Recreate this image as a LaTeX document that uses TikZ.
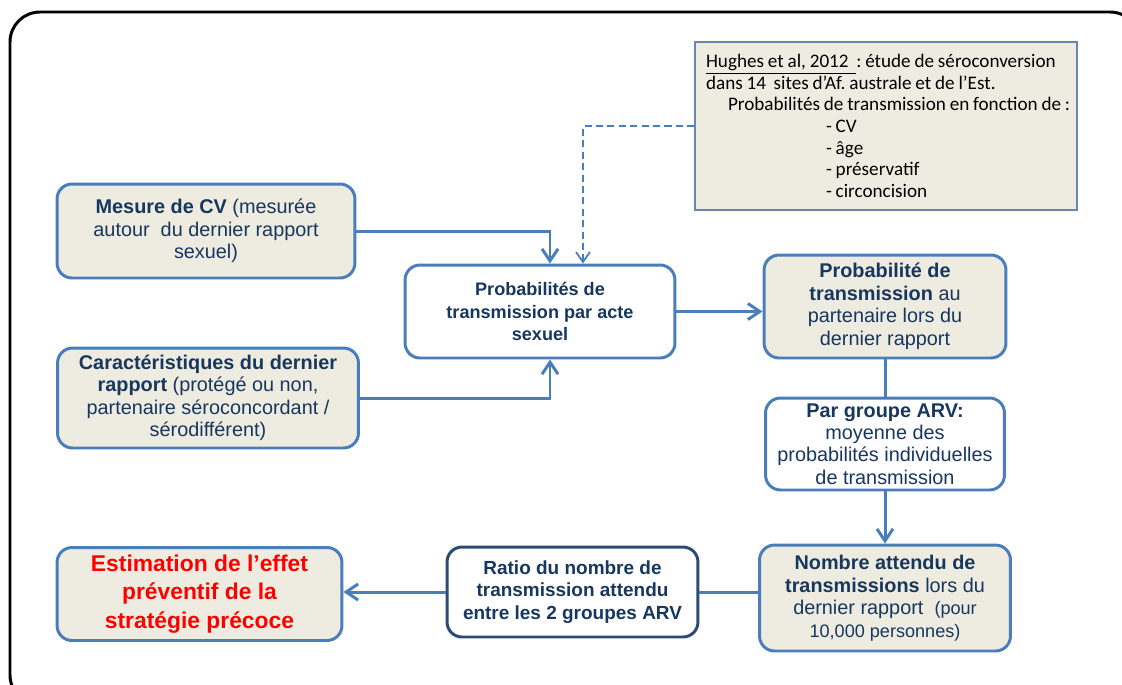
\documentclass[tikz,border=0pt]{standalone}
\usepackage{fontspec}
\setmainfont{Liberation Sans}
\newfontfamily\calibri{Carlito}
\usepackage{xcolor}
\usepackage{tikz}
\usetikzlibrary{arrows.meta,shapes}

\definecolor{boxblue}{HTML}{4A7EBB}
\definecolor{darkblue}{HTML}{2C4B74}
\definecolor{beige}{HTML}{EEECE1}
\definecolor{navy}{HTML}{17375E}
\definecolor{refline}{HTML}{6A86AE}

\begin{document}
\begin{tikzpicture}[x=0.02cm, y=-0.02cm, semithick, >={Straight Barb[length=2.4mm,width=3.2mm]},
box/.style={draw=boxblue, line width=1.7pt, rounded corners=0.3cm, align=center, text=navy, inner sep=1pt, font=\fontsize{11.3}{12.8}\selectfont},
fbox/.style={box, fill=beige},
wbox/.style={box, fill=white},
link/.style={draw=boxblue, line width=1.7pt},
dashlink/.style={draw=boxblue, line width=1pt, dash pattern=on 4pt off 2.5pt, >={Straight Barb[length=2mm,width=2.8mm]}}]
\useasboundingbox (0,0) rectangle (1122,684);
\clip (0,0) rectangle (1122,684);
\draw [line width=1.7pt, rounded corners=0.6cm] (10,12) rectangle (1140,705);

\node [draw=refline, line width=0.8pt, fill=beige, minimum width=7.64cm, minimum height=3.36cm, align=left, text width=7.2cm, inner xsep=0.22cm, font=\calibri\fontsize{10.9}{12.3}\selectfont] (hughes) at (886,126) {\frenchspacing\spaceskip=0.2em plus 0.05em\relax
\underline{Hughes et al, 2012\ \ }: étude de séroconversion\\
dans 14\ \ sites d’Af. australe et de l’Est.\\
\hspace*{0.44cm}\mbox{Probabilités de transmission en fonction de :}\\
\hspace*{2.4cm}- CV\\
\hspace*{2.4cm}- âge\\
\hspace*{2.4cm}- préservatif\\
\hspace*{2.4cm}- circoncision};

\node [fbox, minimum width=5.96cm, minimum height=1.88cm] (cv) at (206,231) {\textbf{Mesure de CV} (mesurée\\autour~ du dernier rapport\\sexuel)};
\node [fbox, minimum width=6.02cm, minimum height=2cm] (rap) at (208,398) {\textbf{Caractéristiques du dernier}\\\textbf{rapport} (protégé ou non,\\partenaire séroconcordant /\\sérodifférent)};
\node [wbox, font=\fontsize{10.3}{13}\selectfont\bfseries, minimum width=5.4cm, minimum height=1.86cm] (acte) at (540,311.5) {Probabilités de\\transmission par acte\\sexuel};
\node [fbox, minimum width=4.84cm, minimum height=2.06cm] (ptrans) at (885,306.5) {\textbf{Probabilité de}\\\textbf{transmission} au\\partenaire lors du\\dernier rapport};
\node [wbox, minimum width=4.78cm, minimum height=1.84cm] (grp) at (885,444) {\textbf{Par groupe ARV:}\\moyenne des\\probabilités individuelles\\de transmission};
\node [fbox, minimum width=5.02cm, minimum height=2.12cm] (nb) at (885,598) {\textbf{Nombre attendu de}\\\textbf{transmissions} lors du\\dernier rapport~ {\fontsize{10.3}{12.8}\selectfont(pour}\\{\fontsize{10.3}{12.8}\selectfont 10,000 personnes)}};
\node [wbox, draw=darkblue, font=\fontsize{10.8}{13}\selectfont\bfseries, minimum width=5.02cm, minimum height=1.8cm] (ratio) at (572.5,592) {Ratio du nombre de\\transmission attendu\\entre les 2 groupes ARV};
\node [fbox, text=red, font=\fontsize{13}{16.2}\selectfont\bfseries, minimum width=5.7cm, minimum height=1.86cm] (est) at (199.5,594) {Estimation de l’effet\\préventif de la\\stratégie précoce};

% liens
\draw [link, ->] (cv.east) -| ([xshift=0.2cm]acte.north);
\draw [link, ->] (rap.east) -| ([xshift=0.2cm]acte.south);
\draw [dashlink, ->] (hughes.west) -| ([xshift=0.86cm]acte.north);
\draw [link, ->] (acte.east) -- (acte.east -| ptrans.west);
\draw [link] (ptrans.south) -- (grp.north);
\draw [link, ->] (grp.south) -- (nb.north);
\draw [link] (ratio.east) -- (ratio.east -| nb.west);
\draw [link, ->] (ratio.west) -- (ratio.west -| est.east);

\end{tikzpicture}
\end{document}
